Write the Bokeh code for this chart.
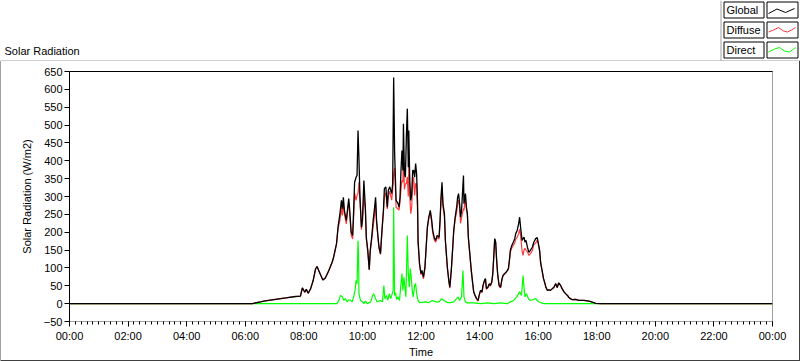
from bokeh.plotting import figure
from bokeh.layouts import column
from bokeh.models import Range1d, LinearAxis, FixedTicker
from bokeh.core.properties import value
from bokeh.embed import file_html
from bokeh.resources import INLINE

# ---------------- data (minutes since midnight, W/m2) ----------------
time_min = [
    0, 374, 391, 401, 422, 443, 463, 473, 477, 482,
    485, 489, 494, 499, 504, 507, 512, 519, 524, 531,
    538, 541, 547, 550, 554, 557, 559, 561, 563, 567,
    570, 572, 574, 577, 580, 582, 584, 587, 589, 591,
    593, 595, 598, 600, 603, 606, 608, 611, 614, 616,
    619, 622, 625, 627, 629, 632, 634, 637, 640, 643,
    645, 648, 651, 653, 656, 660, 662, 664, 666, 669,
    673, 675, 677, 679, 681, 683, 684, 686, 688, 690,
    692, 694, 695, 697, 699, 701, 703, 705, 707, 709,
    711, 713, 714, 717, 720, 722, 725, 728, 731, 733,
    736, 739, 742, 744, 747, 750, 753, 757, 759, 761,
    763, 765, 768, 770, 774, 777, 779, 782, 785, 787,
    790, 793, 795, 797, 799, 801, 803, 807, 808, 811,
    813, 815, 817, 820, 823, 826, 828, 831, 834, 837,
    839, 842, 845, 847, 850, 852, 854, 857, 860, 862,
    865, 867, 869, 871, 873, 875, 877, 880, 883, 886,
    888, 891, 894, 897, 899, 901, 903, 906, 909, 912,
    914, 917, 920, 922, 924, 927, 929, 931, 933, 935,
    938, 941, 944, 948, 951, 955, 958, 960, 963, 965,
    968, 971, 974, 976, 979, 982, 985, 989, 992, 996,
    999, 1002, 1006, 1009, 1013, 1016, 1020, 1023, 1026, 1030,
    1037, 1043, 1054, 1064, 1071, 1078, 1088, 1440,
]

global_wm2 = [
    0, 0, 5, 8, 12, 16, 20, 21, 44, 32,
    40, 29, 42, 64, 97, 104, 88, 66, 72, 92,
    116, 130, 168, 214, 252, 289, 266, 298, 261, 233,
    270, 294, 261, 200, 191, 261, 340, 354, 359, 485,
    401, 298, 214, 233, 345, 270, 186, 149, 95, 149,
    186, 233, 270, 298, 233, 186, 158, 140, 205, 261,
    322, 327, 270, 317, 327, 308, 336, 633, 420, 289,
    280, 270, 298, 373, 429, 373, 504, 364, 354, 466,
    546, 382, 485, 345, 289, 308, 373, 373, 354, 392,
    364, 280, 177, 112, 84, 93, 74, 102, 168, 214,
    242, 261, 233, 205, 186, 177, 191, 186, 233, 298,
    340, 280, 252, 177, 102, 65, 46, 93, 158, 205,
    242, 270, 298, 308, 280, 242, 260, 359, 280, 308,
    270, 252, 186, 140, 93, 56, 33, 23, 14, 9,
    23, 37, 33, 51, 65, 70, 42, 46, 56, 51,
    61, 84, 130, 182, 172, 121, 84, 51, 46, 70,
    79, 84, 88, 93, 98, 121, 149, 163, 172, 182,
    196, 205, 224, 242, 214, 177, 182, 186, 172, 177,
    158, 144, 149, 158, 172, 182, 185, 172, 149, 116,
    93, 70, 56, 45, 37, 39, 37, 42, 45, 56,
    45, 58, 51, 42, 33, 28, 23, 17, 14, 11,
    12, 9, 9, 7, 4, 1, 0, 0,
]

diffuse_wm2 = [
    0, 0, 5, 8, 12, 16, 20, 21, 44, 32,
    40, 29, 42, 64, 97, 104, 88, 66, 72, 92,
    116, 130, 168, 209, 234, 268, 247, 286, 251, 223,
    263, 283, 251, 192, 181, 242, 310, 289, 303, 308,
    340, 289, 207, 228, 300, 265, 180, 145, 95, 145,
    180, 215, 250, 285, 225, 182, 155, 138, 200, 255,
    300, 310, 265, 300, 315, 290, 320, 363, 380, 270,
    265, 262, 285, 320, 345, 340, 430, 320, 335, 336,
    355, 300, 390, 300, 252, 270, 336, 354, 303, 336,
    336, 252, 168, 109, 81, 90, 69, 97, 165, 210,
    239, 257, 224, 198, 180, 172, 186, 181, 225, 285,
    326, 270, 243, 172, 99, 62, 43, 90, 155, 200,
    237, 256, 280, 290, 271, 225, 241, 266, 261, 299,
    266, 250, 184, 138, 91, 54, 31, 21, 12, 7,
    21, 37, 31, 49, 63, 68, 40, 44, 54, 49,
    59, 82, 130, 180, 170, 119, 82, 49, 44, 68,
    77, 82, 86, 93, 96, 117, 144, 156, 163, 170,
    180, 186, 196, 209, 191, 148, 135, 150, 155, 150,
    145, 135, 140, 148, 165, 170, 178, 168, 147, 114,
    92, 70, 56, 45, 37, 39, 37, 42, 45, 56,
    45, 58, 51, 42, 33, 28, 23, 17, 14, 11,
    12, 9, 9, 7, 4, 1, 0, 0,
]

direct_min = [
    0, 548, 552, 555, 559, 562, 565, 569, 572, 576,
    579, 582, 585, 587, 589, 591, 592, 593, 596, 600,
    603, 606, 610, 617, 620, 623, 627, 630, 637, 641,
    644, 646, 649, 652, 655, 658, 660, 663, 664, 666,
    668, 670, 673, 676, 679, 681, 683, 685, 687, 689,
    691, 692, 694, 696, 698, 700, 702, 704, 707, 709,
    711, 714, 717, 729, 736, 743, 750, 757, 762, 767,
    774, 780, 787, 793, 796, 799, 803, 806, 808, 811,
    815, 828, 842, 856, 869, 883, 897, 903, 910, 916,
    920, 922, 926, 929, 931, 933, 936, 940, 943, 948,
    955, 960, 965, 972, 1440,
]
direct_wm2 = [
    0, 0, 9, 23, 19, 9, 14, 5, 11, 9,
    5, 19, 37, 65, 56, 177, 140, 28, 9, 5,
    0, 7, 0, 5, 19, 28, 14, 5, 9, 5,
    51, 14, 23, 9, 28, 14, 23, 37, 270, 23,
    30, 12, 19, 9, 56, 84, 37, 74, 46, 19,
    130, 191, 84, 46, 98, 74, 37, 19, 51, 56,
    28, 9, 3, 5, 3, 9, 5, 5, 14, 9,
    3, 3, 5, 14, 19, 9, 19, 93, 19, 5,
    2, 2, 0, 2, 0, 2, 0, 5, 9, 19,
    28, 33, 23, 79, 46, 19, 28, 14, 9, 11,
    14, 6, 3, 0, 0,
]

x_tick_hours = [0, 2, 4, 6, 8, 10, 12, 14, 16, 18, 20, 22, 24]
x_tick_labels = ["00:00", "02:00", "04:00", "06:00", "08:00", "10:00", "12:00",
                 "14:00", "16:00", "18:00", "20:00", "22:00", "00:00"]
y_ticks = [-50, 0, 50, 100, 150, 200, 250, 300, 350, 400, 450, 500, 550, 600, 650]
series_names = ["Global", "Diffuse", "Direct"]
series_colors = ["#000000", "#ff3a3a", "#00ff00"]
chart_title = "Solar Radiation"

FONT = "Liberation Sans"
W = 800
HEAD_H = 61
MAIN_H = 300

# ---------------- header: title + legend ----------------
head = figure(width=W, height=HEAD_H, output_backend="svg", toolbar_location=None,
              x_range=Range1d(0, W), y_range=Range1d(HEAD_H, 0),
              x_axis_type=None, y_axis_type=None, min_border=0,
              min_border_left=0, min_border_right=0, min_border_top=0, min_border_bottom=0,
              outline_line_color=None, background_fill_color="white",
              border_fill_color="white")
head.grid.visible = False

head.text(x=[4], y=[50], text=[chart_title], text_font=value(FONT),
          text_font_size="11px", text_color="black",
          text_align="left", text_baseline="middle")

# panel top edge and legend left edge
head.line([0, W], [60.5, 60.5], line_color="#a0a0a0", line_width=1)
head.line([720.5, 720.5], [0, 61], line_color="#a0a0a0", line_width=1)

row_tops = [1.5, 21.5, 41.5]
zig = [
    [(1, 11.5), (9.5, 7), (18, 10.5), (27, 6.5)],
    [(1, 10), (6, 8), (11, 5.5), (16, 9), (20, 10), (24, 8), (28, 5.5)],
    [(1, 10), (7, 7), (12, 5.5), (17, 9), (22, 10), (28, 5.5)],
]
head.quad(left=[723.5] * 3, right=[763.5] * 3, top=row_tops,
          bottom=[t + 16 for t in row_tops], fill_color="white",
          line_color="black", line_width=1)
head.quad(left=[766.5] * 3, right=[797.5] * 3, top=row_tops,
          bottom=[t + 16 for t in row_tops], fill_color="white",
          line_color="black", line_width=1)
head.text(x=[726] * 3, y=[t + 8 for t in row_tops], text=series_names,
          text_font=value(FONT), text_font_size="11px", text_color="black",
          text_align="left", text_baseline="middle")
for color, rt, zz in zip(series_colors, row_tops, zig):
    head.line([767 + a for a, b in zz], [rt + b for a, b in zz],
              line_color=color, line_width=1)

# ---------------- main chart ----------------
p = figure(width=W, height=MAIN_H, output_backend="svg", toolbar_location=None,
           x_range=Range1d(0, 24), y_range=Range1d(-50, 650),
           min_border_left=69, min_border_right=28, min_border_top=10,
           min_border_bottom=40,
           background_fill_color="white", border_fill_color=None,
           outline_line_color="#a0a0a0", outline_line_width=1)
p.styles = {"box-shadow": "inset 1px 0 0 #a0a0a0, inset -1px -1px 0 #404040"}
p.xgrid.visible = False
p.ygrid.visible = False

# keep the header's frame independent of the chart's frame
for fig in (head, p):
    if "frame_align" in fig.properties():
        fig.frame_align = False

xa = p.xaxis[0]
xa.ticker = FixedTicker(ticks=x_tick_hours, minor_ticks=[i / 5 for i in range(121)])
xa.major_label_overrides = {h: lab for h, lab in zip(x_tick_hours, x_tick_labels)}
xa.axis_label = "Time"
xa.axis_line_color = None
xa.major_tick_out = 5
xa.major_tick_in = 0
xa.minor_tick_out = 3
xa.minor_tick_in = 0
xa.major_tick_line_color = "black"
xa.minor_tick_line_color = "black"
xa.major_label_standoff = 3
xa.axis_label_standoff = 1

ya = p.yaxis[0]
ya.ticker = FixedTicker(ticks=y_ticks, minor_ticks=[])
ya.axis_label = "Solar Radiation (W/m2)"
ya.axis_line_color = "black"
ya.major_tick_out = 5
ya.major_tick_in = 0
ya.minor_tick_out = 0
ya.minor_tick_in = 0
ya.major_label_standoff = 2
ya.axis_label_standoff = 8

for ax in (xa, ya):
    ax.major_label_text_font = FONT
    ax.major_label_text_font_size = "11px"
    ax.major_label_text_color = "black"
    ax.axis_label_text_font = FONT
    ax.axis_label_text_font_size = "11px"
    ax.axis_label_text_font_style = "normal"
    ax.axis_label_text_color = "black"

top = LinearAxis(ticker=FixedTicker(ticks=[], minor_ticks=[]), axis_line_color="black",
                 major_tick_out=0, major_tick_in=0, minor_tick_out=0, minor_tick_in=0,
                 major_label_text_font_size="0px")
p.add_layout(top, "above")

hours = [m / 60 for m in time_min]
d_hours = [m / 60 for m in direct_min]
p.line(d_hours, direct_wm2, line_color=series_colors[2], line_width=1.2)
p.line(hours, diffuse_wm2, line_color=series_colors[1], line_width=1.2)
p.line(hours, global_wm2, line_color=series_colors[0], line_width=1.3)

page = column(head, p, spacing=0)
open("out.html", "w").write(file_html(page, INLINE))
